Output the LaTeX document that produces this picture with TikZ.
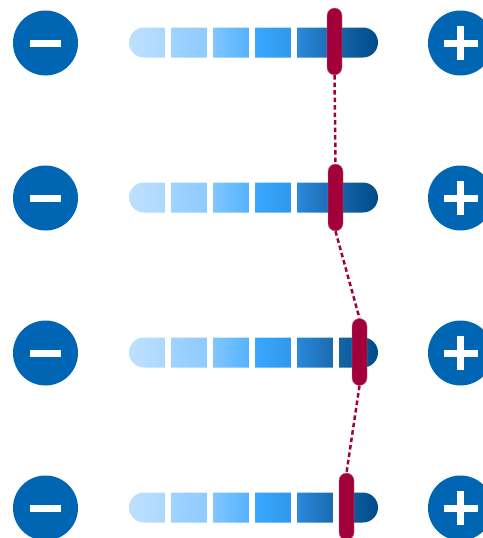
\documentclass[tikz,border=0pt]{standalone}
\usepackage{xcolor}
\usepackage{tikz}
\usetikzlibrary{calc, positioning}

\definecolor{btnblue}{HTML}{0066B3}
\definecolor{markred}{HTML}{A2003A}
\definecolor{lvA}{HTML}{BEE0FF}
\definecolor{lvB}{HTML}{ACD8FF}
\definecolor{lvC}{HTML}{9ED3FF}
\definecolor{lvD}{HTML}{8FCBFF}
\definecolor{lvE}{HTML}{80C6FF}
\definecolor{lvF}{HTML}{55B2FF}
\definecolor{lvG}{HTML}{3AA8FF}
\definecolor{lvH}{HTML}{2E98EA}
\definecolor{lvI}{HTML}{2A8ADB}
\definecolor{lvJ}{HTML}{1A6AB0}
\definecolor{lvK}{HTML}{1565A8}
\definecolor{lvL}{HTML}{004C8A}

\pgfdeclarehorizontalshading{levelshade}{100bp}{color(0bp)=(lvA); color(25bp)=(lvA);
  color(32.2bp)=(lvB); color(33.4bp)=(lvC); color(40.7bp)=(lvD); color(41.9bp)=(lvE);
  color(49.1bp)=(lvF); color(50.3bp)=(lvG); color(57.5bp)=(lvH); color(58.7bp)=(lvI);
  color(65.9bp)=(lvJ); color(67.1bp)=(lvK); color(75bp)=(lvL); color(100bp)=(lvL)}

\begin{document}
\begin{tikzpicture}[
    x=1pt, y=-1pt,
    btn/.style={circle, fill=btnblue, minimum size=65pt, inner sep=0pt},
    minusbtn/.style={btn, path picture={
        \fill[white] ($(path picture bounding box.center)+(-15.5,-3.5)$) rectangle +(31,7);}},
    plusbtn/.style={btn, path picture={
        \fill[white] ($(path picture bounding box.center)+(-17,-3.5)$) rectangle +(34,7);
        \fill[white] ($(path picture bounding box.center)+(-3.5,-17)$) rectangle +(7,34);}},
    levelbar/.style={rectangle, rounded corners=15pt, minimum width=249pt, minimum height=30pt, inner sep=0pt, shading=levelshade},
    gap/.style={fill=white},
    marker/.style={rectangle, rounded corners=7.5pt, minimum width=15pt, minimum height=67pt, inner sep=0pt, fill=markred, draw=markred!55!white, line width=0.4pt},
    link/.style={markred, line width=2.5pt, dash pattern=on 4.5pt off 3pt}
]
\useasboundingbox (0,0) rectangle (482,538);

% Buttons
\node (minus1) [minusbtn] at (45.5,43) {};
\node (minus2) [minusbtn] at (45.5,198) {};
\node (minus3) [minusbtn] at (45.5,353) {};
\node (minus4) [minusbtn] at (45.5,508) {};
\node (plus1) [plusbtn] at (460.5,43) {};
\node (plus2) [plusbtn] at (460.5,198) {};
\node (plus3) [plusbtn] at (460.5,353) {};
\node (plus4) [plusbtn] at (460.5,508) {};

% Bars
\node (bar1) [levelbar] at (253.5,42.5) {};
\node (bar2) [levelbar] at (253.5,197.5) {};
\node (bar3) [levelbar] at (253.5,352.5) {};
\node (bar4) [levelbar] at (253.5,507.5) {};
\foreach \r in {1,...,4}
  \foreach \k in {1,...,5}
    \fill[gap] ($(bar\r.west)+(42*\k-6,-16)$) rectangle +(6,32);

% Markers
\node (mark1) [marker] at (334.5,41.5) {};
\node (mark2) [marker] at (335.5,197.5) {};
\node (mark3) [marker] at (359.5,352) {};
\node (mark4) [marker] at (346.5,506.5) {};

% Links
\draw[link] (mark1.south) -- (mark2.north);
\draw[link] (mark2.south) -- (mark3.north);
\draw[link] (mark3.south) -- (mark4.north);

\end{tikzpicture}
\end{document}
